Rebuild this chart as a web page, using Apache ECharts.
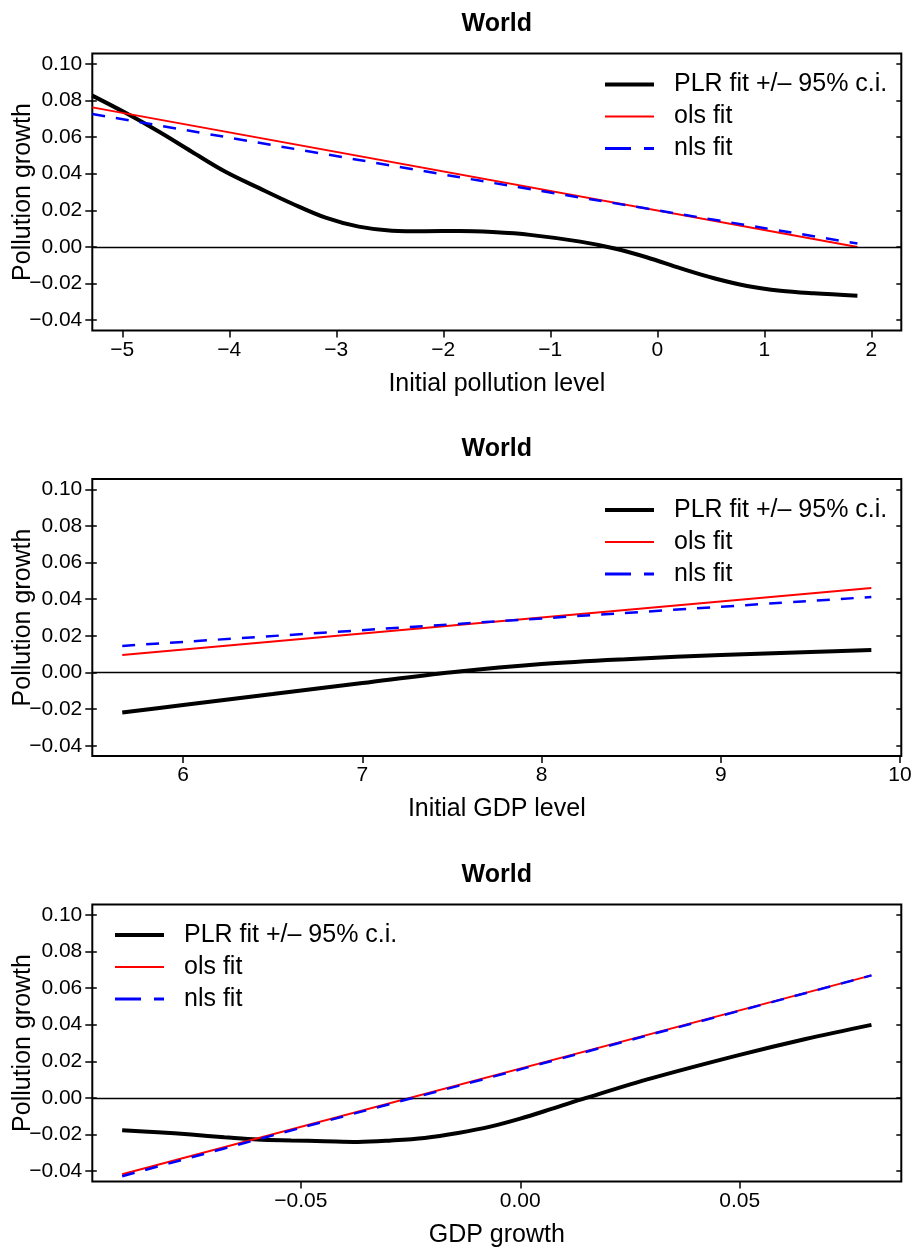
<!DOCTYPE html>
<html>
<head>
<meta charset="utf-8">
<script src="https://cdn.jsdelivr.net/npm/echarts@6/dist/echarts.min.js"></script>
<style>
  html, body { margin: 0; padding: 0; background: #ffffff; }
  #chart { width: 915px; height: 1247px; }
</style>
</head>
<body>
<div id="chart"></div>
<script>
// ---- Panel 1: pollution growth vs initial pollution level ----
const p1X   = [-5.28, -4.97, -4.66, -4.35, -4.04, -3.72, -3.41, -3.10, -2.79, -2.48, -2.17, -1.85, -1.54, -1.19, -0.72, -0.41, -0.10, 0.22, 0.53, 0.84, 1.15, 1.46, 1.87];
const p1PLR = [0.0826, 0.0732, 0.0630, 0.0520, 0.0412, 0.0321, 0.0236, 0.0160, 0.0111, 0.0089, 0.0086, 0.0087, 0.0081, 0.0066, 0.0029, -0.0007, -0.0056, -0.0117, -0.0171, -0.0213, -0.0239, -0.0253, -0.0266];
const p1OlsX = [-5.28, 1.87];
const p1Ols  = [0.0762, 0.0000];
const p1NlsX = [-5.28, -1.65, 1.87];
const p1Nls  = [0.0726, 0.0361, 0.0019];
const p1XTicks = [-5, -4, -3, -2, -1, 0, 1, 2];

// ---- Panel 2: pollution growth vs initial GDP level ----
const p2X   = [5.66, 6.0, 6.5, 7.0, 7.5, 8.0, 8.5, 9.0, 9.5, 9.84];
const p2PLR = [-0.0219, -0.0178, -0.0118, -0.0058, 0.0001, 0.0046, 0.0074, 0.0095, 0.0112, 0.0123];
const p2OlsX = [5.66, 9.84];
const p2Ols  = [0.0095, 0.0461];
const p2NlsX = [5.66, 7.75, 9.84];
const p2Nls  = [0.0145, 0.0279, 0.0412];
const p2XTicks = [6, 7, 8, 9, 10];

// ---- Panel 3: pollution growth vs GDP growth ----
const p3X   = [-0.0907, -0.0826, -0.0750, -0.0674, -0.0598, -0.0522, -0.0446, -0.0370, -0.0294, -0.0218, -0.0142, -0.0066, 0.0, 0.0075, 0.015, 0.03, 0.05, 0.065, 0.08];
const p3PLR = [-0.0176, -0.0187, -0.0200, -0.0214, -0.0227, -0.0232, -0.0236, -0.0240, -0.0232, -0.0218, -0.0191, -0.0155, -0.0113, -0.0057, 0.0000, 0.0108, 0.0235, 0.0322, 0.0399];
const p3OlsX = [-0.0907, 0.08];
const p3Ols  = [-0.0416, 0.0669];
const p3NlsX = [-0.0907, -0.05, 0.0, 0.04, 0.08];
const p3Nls  = [-0.0427, -0.0163, 0.0156, 0.0412, 0.0669];
const p3XTicks = [-0.05, 0, 0.05];

// shared y ticks and labels
const yTicks = [-0.04, -0.02, 0, 0.02, 0.04, 0.06, 0.08, 0.10];
const panelTitle = 'World';
const yName = 'Pollution growth';
const xNames = ['Initial pollution level', 'Initial GDP level', 'GDP growth'];
const seriesNames = ['PLR fit +/\u2013 95% c.i.', 'ols fit', 'nls fit'];

// ---- layout & style ----
const FONT = '"Liberation Sans", Arial, Helvetica, sans-serif';
const GRID_LEFT = 92.3, GRID_RIGHT = 13.7, GRID_H = 277;
const gridTops = [53.5, 479, 904.5];
const yRange = [-0.0456, 0.1056];
const xRanges = [[-5.28, 2.28], [5.4928, 10.0072], [-0.0975, 0.0868]];
const legendPos = [{ left: 603, top: 72 }, { left: 603, top: 497.5 }, { left: 113, top: 922.5 }];
const BLACK = '#000000', RED = '#ff0000', BLUE = '#0000ff';

const minus = s => s.replace('-', '\u2212');
const fmtInt = v => minus(String(Math.round(v)));
const fmt2 = v => minus(v.toFixed(2));

const panels = [
  { x: p1X, plr: p1PLR, olsX: p1OlsX, ols: p1Ols, nlsX: p1NlsX, nls: p1Nls, ticks: p1XTicks, fmt: fmtInt },
  { x: p2X, plr: p2PLR, olsX: p2OlsX, ols: p2Ols, nlsX: p2NlsX, nls: p2Nls, ticks: p2XTicks, fmt: fmtInt },
  { x: p3X, plr: p3PLR, olsX: p3OlsX, ols: p3Ols, nlsX: p3NlsX, nls: p3Nls, ticks: p3XTicks, fmt: fmt2 }
];

const zip = (xs, ys) => xs.map((x, i) => [x, ys[i]]);
const tickStyle = { color: BLACK, width: 1.5 };
const noLine = { show: false, onZero: false };

const option = {
  animation: false,
  backgroundColor: '#ffffff',
  title: [], grid: [], xAxis: [], yAxis: [], legend: [], series: []
};

panels.forEach((p, i) => {
  const top = gridTops[i];
  option.title.push({
    text: panelTitle, left: GRID_LEFT + (915 - GRID_LEFT - GRID_RIGHT) / 2, top: top - 42,
    textAlign: 'center', padding: 0,
    textStyle: { fontFamily: FONT, fontSize: 25, fontWeight: 'bold', color: BLACK }
  });
  option.grid.push({
    left: GRID_LEFT, right: GRID_RIGHT, top: top, height: GRID_H,
    containLabel: false, outerBoundsMode: 'none',
    show: true, borderColor: BLACK, borderWidth: 2, backgroundColor: 'transparent'
  });
  option.xAxis.push({
    gridIndex: i, type: 'value', position: 'bottom',
    min: xRanges[i][0], max: xRanges[i][1],
    axisLine: noLine,
    axisTick: { show: true, inside: false, length: 7, lineStyle: tickStyle, customValues: p.ticks },
    axisLabel: { customValues: p.ticks, formatter: p.fmt, margin: 9, fontSize: 21, fontFamily: FONT, color: BLACK },
    splitLine: { show: false },
    name: xNames[i], nameLocation: 'middle', nameGap: 41,
    nameTextStyle: { fontFamily: FONT, fontSize: 25, color: BLACK }
  });
  const yBase = { gridIndex: i, type: 'value', min: yRange[0], max: yRange[1], splitLine: { show: false } };
  option.yAxis.push(Object.assign({}, yBase, {
    position: 'left',
    axisLine: noLine,
    axisTick: { show: true, inside: false, length: 7, lineStyle: tickStyle, customValues: yTicks },
    axisLabel: { customValues: yTicks, formatter: fmt2, margin: 10, fontSize: 21, fontFamily: FONT, color: BLACK },
    name: yName, nameLocation: 'middle', nameGap: 57, nameRotate: 90, nameMoveOverlap: false,
    nameTextStyle: { fontFamily: FONT, fontSize: 25, color: BLACK }
  }));
  option.yAxis.push(Object.assign({}, yBase, {
    position: 'left',
    axisLine: noLine, axisLabel: { show: false },
    axisTick: { show: true, inside: true, length: 4.5, lineStyle: tickStyle, customValues: yTicks }
  }));
  option.yAxis.push(Object.assign({}, yBase, {
    position: 'right',
    axisLine: noLine, axisLabel: { show: false },
    axisTick: { show: true, inside: true, length: 5, lineStyle: tickStyle, customValues: yTicks }
  }));
  option.legend.push({
    orient: 'vertical', left: legendPos[i].left, top: legendPos[i].top, padding: 0,
    itemWidth: 49, itemHeight: 14, itemGap: 7,
    selectedMode: false,
    textStyle: { fontFamily: FONT, fontSize: 25, lineHeight: 24, color: BLACK, padding: [0, 0, 0, 15] },
    data: [
      { name: seriesNames[0], itemStyle: { opacity: 0 }, lineStyle: { width: 4, color: BLACK } },
      { name: seriesNames[1], itemStyle: { opacity: 0 }, lineStyle: { width: 2, color: RED } },
      { name: seriesNames[2], itemStyle: { opacity: 0 }, lineStyle: { width: 3, color: BLUE, type: [26, 13] } }
    ]
  });
  const common = { type: 'line', xAxisIndex: i, yAxisIndex: 3 * i, symbol: 'none', showSymbol: false, clip: true, silent: true };
  option.series.push(Object.assign({}, common, {
    name: seriesNames[0], data: zip(p.x, p.plr), smooth: 0.35, z: 3,
    lineStyle: { color: BLACK, width: 4 }, itemStyle: { color: BLACK },
    markLine: {
      silent: true, symbol: ['none', 'none'], label: { show: false },
      lineStyle: { color: BLACK, width: 1.3, type: 'solid' },
      data: [{ yAxis: 0 }]
    }
  }));
  option.series.push(Object.assign({}, common, {
    name: seriesNames[1], data: zip(p.olsX, p.ols), z: 4,
    lineStyle: { color: RED, width: 2 }, itemStyle: { color: RED }
  }));
  option.series.push(Object.assign({}, common, {
    name: seriesNames[2], data: zip(p.nlsX, p.nls), smooth: 0.3, z: 5,
    lineStyle: { color: BLUE, width: 2.5, type: [13, 11] }, itemStyle: { color: BLUE }
  }));
});

const chart = echarts.init(document.getElementById('chart'), null, { renderer: 'canvas' });
chart.setOption(option);
</script>
</body>
</html>
